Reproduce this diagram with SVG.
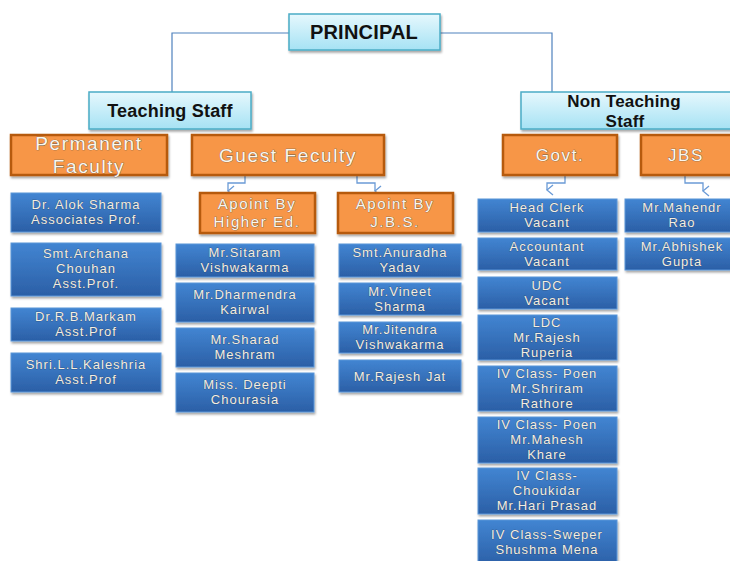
<svg xmlns="http://www.w3.org/2000/svg" width="730" height="561" viewBox="0 0 730 561">
<defs>
<linearGradient id="gl" x1="0" y1="0" x2="0" y2="1"><stop offset="0" stop-color="#e6f8fd"/><stop offset="1" stop-color="#a6e2f4"/></linearGradient>
<linearGradient id="gb" x1="0" y1="0" x2="0" y2="1"><stop offset="0" stop-color="#4285d2"/><stop offset="1" stop-color="#2b5fa6"/></linearGradient>
<filter id="sh" x="-10%" y="-10%" width="120%" height="130%"><feDropShadow dx="1" dy="2" stdDeviation="1.2" flood-color="#000" flood-opacity="0.35"/></filter>
<marker id="ar" markerWidth="12" markerHeight="10" refX="6" refY="8" orient="auto" markerUnits="userSpaceOnUse"><path d="M1,2 L6,8 L11,2" fill="none" stroke="#6b9bd6" stroke-width="1.3"/></marker>
<style>
.lb{fill:url(#gl);stroke:#4bacc6;stroke-width:1.5;filter:url(#sh)}
.or{fill:#f79646;stroke:#b65a10;stroke-width:2.5;filter:url(#sh)}
.bl{fill:url(#gb);stroke:#5a95d8;stroke-width:1;filter:url(#sh)}
.tb{font-family:"Liberation Sans",Arial,sans-serif;font-weight:bold;fill:#111;text-anchor:middle;letter-spacing:0.2px}
.to{font-family:"Liberation Sans",Arial,sans-serif;fill:#fbf7ee;stroke:#6a5a4a;stroke-width:0.7;paint-order:stroke;text-anchor:middle;letter-spacing:1.6px}
.tw{font-family:"Liberation Sans",Arial,sans-serif;font-size:13px;fill:#f3eee2;stroke:#2a3f60;stroke-width:0.5;paint-order:stroke;text-anchor:middle;letter-spacing:1px}
.cn{fill:none;stroke:#4f81bd;stroke-width:1.2}
.ca{fill:none;stroke:#6b9bd6;stroke-width:1.3}
</style>
</defs>
<rect width="730" height="561" fill="#ffffff"/>
<g id="connectors">
<path class="cn" d="M289,33 H172 V92"/>
<path class="cn" d="M440,33 H552 V92"/>
<path class="ca" d="M245,175 V183 H228 V191" marker-end="url(#ar)"/>
<path class="ca" d="M357,175 V183 H375 V191" marker-end="url(#ar)"/>
<path class="ca" d="M565,175 V183 H547 V190" marker-end="url(#ar)"/>
<path class="ca" d="M685,175 V183 H703 V191" marker-end="url(#ar)"/>
</g>
<g id="principal"><rect class="lb" x="289" y="14" width="151" height="36"/><text class="tb" x="364" y="39" font-size="20">PRINCIPAL</text></g>
<g id="teaching"><rect class="lb" x="89" y="92" width="162" height="37"/><text class="tb" x="170" y="117" font-size="18">Teaching Staff</text></g>
<g id="nonteaching"><rect class="lb" x="521" y="92" width="215" height="37"/><text class="tb" x="624" y="107" font-size="17" letter-spacing="0.6">Non Teaching</text><text class="tb" x="625" y="127" font-size="17">Staff</text></g>
<g id="permanent"><rect class="or" x="11" y="135" width="156" height="40"/><text class="to" x="89" y="150" font-size="19">Permanent</text><text class="to" x="89" y="173" font-size="19">Faculty</text></g>
<g id="guest"><rect class="or" x="192" y="135" width="192" height="40"/><text class="to" x="288" y="162" font-size="19" letter-spacing="1.7">Guest Feculty</text></g>
<g id="govt"><rect class="or" x="503" y="135" width="114" height="40"/><text class="to" x="560" y="161" font-size="17" letter-spacing="1.5">Govt.</text></g>
<g id="jbs"><rect class="or" x="641" y="135" width="95" height="40"/><text class="to" x="686" y="161" font-size="17" letter-spacing="1.5">JBS</text></g>
<g id="higher"><rect class="or" x="200" y="193" width="115" height="40"/><text class="to" x="257" y="209" font-size="15">Apoint By</text><text class="to" x="257" y="227" font-size="15">Higher Ed.</text></g>
<g id="jbsappt"><rect class="or" x="338" y="193" width="115" height="40"/><text class="to" x="395" y="209" font-size="15">Apoint By</text><text class="to" x="395" y="227" font-size="15">J.B.S.</text></g>

<g id="p1"><rect class="bl" x="11" y="193" width="150" height="39"/><text class="tw" x="86" y="209">Dr. Alok Sharma</text><text class="tw" x="86" y="224">Associates Prof.</text></g>
<g id="p2"><rect class="bl" x="11" y="243" width="150" height="53"/><text class="tw" x="86" y="258">Smt.Archana</text><text class="tw" x="86" y="273">Chouhan</text><text class="tw" x="86" y="288">Asst.Prof.</text></g>
<g id="p3"><rect class="bl" x="11" y="308" width="150" height="33"/><text class="tw" x="86" y="321">Dr.R.B.Markam</text><text class="tw" x="86" y="336">Asst.Prof</text></g>
<g id="p4"><rect class="bl" x="11" y="353" width="150" height="39"/><text class="tw" x="86" y="369">Shri.L.L.Kaleshria</text><text class="tw" x="86" y="384">Asst.Prof</text></g>

<g id="h1"><rect class="bl" x="176" y="244" width="138" height="33"/><text class="tw" x="245" y="257">Mr.Sitaram</text><text class="tw" x="245" y="272">Vishwakarma</text></g>
<g id="h2"><rect class="bl" x="176" y="283" width="138" height="39"/><text class="tw" x="245" y="299">Mr.Dharmendra</text><text class="tw" x="245" y="314">Kairwal</text></g>
<g id="h3"><rect class="bl" x="176" y="328" width="138" height="39"/><text class="tw" x="245" y="344">Mr.Sharad</text><text class="tw" x="245" y="359">Meshram</text></g>
<g id="h4"><rect class="bl" x="176" y="373" width="138" height="39"/><text class="tw" x="245" y="389">Miss. Deepti</text><text class="tw" x="245" y="404">Chourasia</text></g>

<g id="j1"><rect class="bl" x="339" y="244" width="122" height="33"/><text class="tw" x="400" y="257">Smt.Anuradha</text><text class="tw" x="400" y="272">Yadav</text></g>
<g id="j2"><rect class="bl" x="339" y="283" width="122" height="32"/><text class="tw" x="400" y="296">Mr.Vineet</text><text class="tw" x="400" y="311">Sharma</text></g>
<g id="j3"><rect class="bl" x="339" y="322" width="122" height="31"/><text class="tw" x="400" y="334">Mr.Jitendra</text><text class="tw" x="400" y="349">Vishwakarma</text></g>
<g id="j4"><rect class="bl" x="339" y="360" width="122" height="32"/><text class="tw" x="400" y="381">Mr.Rajesh Jat</text></g>

<g id="g1"><rect class="bl" x="478" y="199" width="139" height="33"/><text class="tw" x="547" y="212">Head Clerk</text><text class="tw" x="547" y="227">Vacant</text></g>
<g id="g2"><rect class="bl" x="478" y="238" width="139" height="32"/><text class="tw" x="547" y="251">Accountant</text><text class="tw" x="547" y="266">Vacant</text></g>
<g id="g3"><rect class="bl" x="478" y="277" width="139" height="32"/><text class="tw" x="547" y="290">UDC</text><text class="tw" x="547" y="305">Vacant</text></g>
<g id="g4"><rect class="bl" x="478" y="315" width="139" height="45"/><text class="tw" x="547" y="327">LDC</text><text class="tw" x="547" y="342">Mr.Rajesh</text><text class="tw" x="547" y="357">Ruperia</text></g>
<g id="g5"><rect class="bl" x="478" y="366" width="139" height="45"/><text class="tw" x="547" y="378">IV Class- Poen</text><text class="tw" x="547" y="393">Mr.Shriram</text><text class="tw" x="547" y="408">Rathore</text></g>
<g id="g6"><rect class="bl" x="478" y="417" width="139" height="46"/><text class="tw" x="547" y="429">IV Class- Poen</text><text class="tw" x="547" y="444">Mr.Mahesh</text><text class="tw" x="547" y="459">Khare</text></g>
<g id="g7"><rect class="bl" x="478" y="468" width="139" height="46"/><text class="tw" x="547" y="480">IV Class-</text><text class="tw" x="547" y="495">Choukidar</text><text class="tw" x="547" y="510">Mr.Hari Prasad</text></g>
<g id="g8"><rect class="bl" x="478" y="520" width="139" height="46"/><text class="tw" x="547" y="539">IV Class-Sweper</text><text class="tw" x="547" y="554">Shushma Mena</text></g>

<g id="b1"><rect class="bl" x="625" y="199" width="110" height="33"/><text class="tw" x="682" y="212">Mr.Mahendr</text><text class="tw" x="682" y="227">Rao</text></g>
<g id="b2"><rect class="bl" x="625" y="238" width="110" height="32"/><text class="tw" x="682" y="251">Mr.Abhishek</text><text class="tw" x="682" y="266">Gupta</text></g>
</svg>
